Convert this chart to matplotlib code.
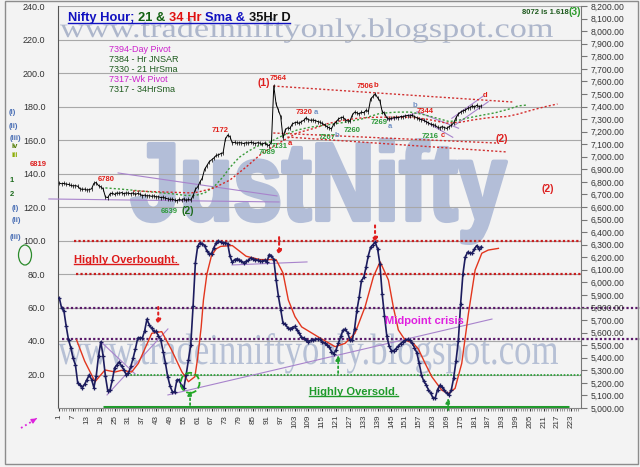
import matplotlib
matplotlib.use('Agg')
import matplotlib.pyplot as plt
from matplotlib.patches import Ellipse, PathPatch, Rectangle
from matplotlib.textpath import TextPath
from matplotlib.font_manager import FontProperties
from matplotlib.transforms import Affine2D
from matplotlib.lines import Line2D

plt.rcParams['font.family'] = ['Liberation Sans', 'DejaVu Sans']

# hourly close, bars 1..184
price = [6790, 6785, 6788, 6782, 6780, 6772, 6768, 6770, 6765, 6745,
         6740, 6742, 6735, 6738, 6745, 6788, 6795, 6770, 6760, 6745,
         6680, 6675, 6705, 6710, 6700, 6712, 6708, 6715, 6705, 6712,
         6710, 6705, 6712, 6700, 6708, 6702, 6690, 6695, 6688, 6690,
         6685, 6688, 6680, 6682, 6675, 6678, 6670, 6665, 6660, 6662,
         6655, 6650, 6660, 6655, 6665, 6652, 6660, 6655, 6690, 6740,
         6760, 6800, 6830, 6900, 6930, 6960, 6975, 6990, 7010, 7015,
         7025, 7030, 7140, 7172, 7160, 7110, 7115, 7108, 7112, 7110,
         7105, 7112, 7108, 7115, 7110, 7105, 7112, 7108, 7100, 7110,
         7095, 7089, 7120, 7564, 7420, 7370, 7320, 7150, 7215, 7230,
         7225, 7260, 7270, 7275, 7265, 7280, 7290, 7310, 7295, 7290,
         7292, 7288, 7280, 7275, 7265, 7255, 7240, 7230, 7222, 7260,
         7275, 7300, 7310, 7315, 7295, 7285, 7285, 7330, 7355, 7350,
         7340, 7355, 7350, 7370, 7360, 7460, 7480, 7500, 7470, 7445,
         7360, 7345, 7310, 7300, 7305, 7310, 7315, 7310, 7320, 7318,
         7325, 7328, 7325, 7330, 7320, 7310, 7300, 7295, 7290, 7280,
         7270, 7260, 7255, 7250, 7235, 7228, 7240, 7232, 7225, 7240,
         7250, 7270, 7310, 7340, 7355, 7365, 7370, 7385, 7390, 7405,
         7395, 7410, 7400, 7405]

# oscillator (left scale), bars 1..184
osc = [65.7, 59.7, 58, 48.7, 40.7, 36, 29.7, 25.7, 14.8, 13.8,
       12.2, 14.2, 17, 19.8, 17, 12.2, 19, 31, 39.5, 31,
       19, 10.4, 10.8, 16.8, 24, 25.7, 27.5, 25, 22.8, 20,
       20.8, 24.8, 29.7, 35.3, 41.7, 42, 41.7, 46, 53, 49.7,
       47.7, 45.7, 45.7, 43, 40.7, 33.7, 27, 18.8, 13.2, 9.8,
       9.4, 16.8, 16.8, 13.2, 11.8, 19.8, 28.7, 37.7, 60.7, 86.6,
       96.6, 98.6, 98.2, 97, 93.6, 92.2, 92.2, 95.6, 98.6, 99.6,
       99.2, 98.6, 98.6, 98.2, 90.6, 87, 88.6, 89, 88.6, 87.6,
       86.6, 87.6, 88.2, 89.6, 89, 88.6, 88.2, 87.6, 87.6, 88.2,
       87, 91.6, 91, 88.6, 76.6, 66.7, 58.7, 50.7, 50, 48,
       47.3, 48, 48.7, 46.7, 44.7, 42.3, 41.7, 40.7, 39.7, 40.3,
       40.7, 41, 41, 41, 39.7, 38.7, 37.7, 36.7, 33.7, 32.3,
       34.7, 38.7, 42.7, 46.5, 47, 45, 40.7, 40.3, 47, 58,
       66, 76, 78, 84, 91, 96, 97.5, 99, 95, 86,
       68, 55, 43, 37, 34.2, 34.2, 35.5, 37, 38.5, 39.6,
       40.3, 41, 40.5, 38.6, 36, 33, 27, 20, 16, 14,
       11, 9, 6, 6, 11, 13.5, 12.5, 10.5, 8.7, 7.8,
       11, 18, 28, 40, 62, 80, 90, 93, 92.4, 92.5,
       95, 97, 94.8, 96.4]
bars = list(range(1, len(price) + 1))

# smoothing line of the oscillator, read at its turning points
osc_ma_x = [8.5, 12, 16.5, 20.8, 25.2, 28, 32.4, 35.3, 41.1, 45.4,
            49.7, 54.1, 57, 59.8, 61, 62.5, 63.5, 65, 67, 69,
            71, 76, 82, 88, 95, 98, 100.3, 103.2, 106.1, 113.3,
            120.6, 124.9, 129.2, 133.6, 137.2, 140.1, 143.7, 145.8, 148, 150.9,
            154.5, 156.7, 159.6, 162.5, 166.8, 169.7, 172.6, 175.5, 178.4, 181.3,
            184.2, 187, 191.4]
osc_ma_y = [40.6, 28, 15.7, 22.7, 21.5, 22.5, 21.5, 26.7, 44.6, 45.6,
            34.6, 21.7, 15.7, 18.7, 30, 48, 64.5, 80, 91, 95,
            96.5, 97, 90.6, 88.6, 88.6, 80.6, 64.5, 54.5, 48.4, 42.4,
            36.6, 38.6, 44.6, 60.5, 78.4, 87.3, 76.4, 60.5, 46.6, 40.6,
            38.6, 35.2, 26.7, 18.7, 10.7, 8.7, 11.7, 26.7, 56.5, 82.4,
            92.4, 94.3, 95.3]

sma21_x = [21, 28, 35, 42, 50, 56, 60, 64, 68, 72, 75, 79, 83, 87, 92, 98, 104,
           110, 117, 125, 132, 140, 147, 153, 158, 163, 170, 174, 178, 184, 190,
           196, 200, 204]
sma21_y = [6752, 6742, 6730, 6718, 6705, 6692, 6692, 6712, 6760, 6840, 6915,
           6995, 7045, 7085, 7115, 7170, 7212, 7236, 7253, 7275, 7300, 7345,
           7355, 7356, 7340, 7316, 7280, 7290, 7308, 7330, 7350, 7380, 7405, 7412]
sma34_x = [33, 42, 52, 58, 61, 68, 75, 82, 89, 97, 104, 112, 117, 124, 131, 138,
           146, 154, 160, 165, 169, 175, 180, 186, 190, 195, 200, 206, 212, 217]
sma34_y = [6728, 6722, 6716, 6712, 6718, 6751, 6815, 6918, 7030, 7117, 7189,
           7229, 7262, 7290, 7308, 7314, 7316, 7314, 7300, 7282, 7268, 7275,
           7292, 7308, 7316, 7320, 7340, 7372, 7400, 7420]

# trend lines: (x0, y0, x1, y1)
price_purple = [(26.5, 6871, 95.4, 6688), (-3.5, 6664, 96.3, 6640),
                (143.2, 7292, 156.2, 7348), (156.1, 7359, 174.1, 7227),
                (157.4, 7306, 171.6, 7155), (171.2, 7306, 184.9, 7484),
                (172.6, 7253, 187.0, 7438)]
price_red = [(93.8, 7563, 197.4, 7436), (93.8, 7189, 190.9, 7109),
             (99.9, 7157, 195.2, 7038)]
osc_purple = [(19.6, 38.8, 33.9, 20.3), (21.7, 7.8, 48.1, 47.2),
              (75.9, 85.4, 108.4, 87.2), (48.1, 7.8, 188.6, 53.1)]

price_labels = [("6780", 21.5, 6815, 'r'), ("6639", 48.6, 6568, 'g'),
                ("7172", 70.7, 7205, 'r'), ("7089", 91, 7030, 'g'),
                ("7131", 96.5, 7078, 'g'), ("a", 101, 7109, 'r'),
                ("7564", 95.8, 7619, 'r'), ("7320", 107.2, 7356, 'r'),
                ("a", 112.3, 7356, 'b'), ("7207", 117.3, 7157, 'g'),
                ("b", 121.4, 7173, 'b'), ("7260", 128.1, 7205, 'g'),
                ("7506", 133.8, 7563, 'r'), ("b", 138.3, 7571, 'r'),
                ("7269", 139.6, 7269, 'g'), ("a", 144.4, 7237, 'b'),
                ("b", 155.3, 7404, 'b'), ("7344", 159.8, 7364, 'r'),
                ("7216", 161.9, 7165, 'g'), ("c", 167.4, 7173, 'r'),
                ("d", 185.6, 7484, 'r'), ("8072 is 1.618", 211.6, 8152, 'k')]
wave_labels = [("(2)", 56.8, 6568, '#1d6b1d'), ("(1)", 89.8, 7587, '#dd2020'),
               ("(2)", 192.9, 7141, '#dd2020'), ("(2)", 212.9, 6743, '#dd2020'),
               ("(3)", 224.6, 8152, '#2a9a2a')]
pivots = [("7394-Day Pivot", '#cc22cc'), ("7384 - Hr JNSAR", '#1e5a1e'),
          ("7330 - 21 HrSma", '#1e5a1e'), ("7317-Wk Pivot", '#cc22cc'),
          ("7317 - 34HrSma", '#1e5a1e')]
side_labels = [("(i)", 12, 113, '#4a6fb5'), ("(ii)", 13, 126, '#4a6fb5'),
               ("(iii)", 15, 139, '#4a6fb5'), ("iv", 15, 147, '#4d7a00'),
               ("iii", 15, 155, '#8aab00'), ("6819", 38, 165, '#dd2020'),
               ("1", 12, 180, '#1d6b1d'), ("2", 12, 194, '#1d6b1d'),
               ("(i)", 15, 208, '#4a6fb5'), ("(ii)", 16, 221, '#4a6fb5'),
               ("(iii)", 15, 238, '#4a6fb5')]
title_parts = [("Nifty Hour; ", '#1010c0'), ("21 & ", '#106010'),
               ("34 Hr ", '#e01010'), ("Sma & ", '#1010c0'), ("35Hr D", '#111111')]

W, H = 640, 467
fig = plt.figure(figsize=(6.4, 4.67), dpi=100, facecolor='#f3f3f3')


def px(x, y):
    return x / W, 1 - y / H


def wordmark(s, x0, x1, ytop, ybase, family, weight, color, stroke=0):
    tp = TextPath((0, 0), s, size=1, prop=FontProperties(family=family, weight=weight))
    ext = tp.get_extents()
    tr = Affine2D().translate(-ext.x0, 0).scale((x1 - x0) / ext.width / W,
                                                (ybase - ytop) / ext.y1 / H)
    tr = tr.translate(x0 / W, 1 - ybase / H)
    fig.add_artist(PathPatch(tp, transform=tr + fig.transFigure, facecolor=color,
                             edgecolor=color if stroke else 'none', lw=stroke,
                             joinstyle='round', zorder=-1))


wordmark("JustNifty", 132, 506, 140, 220, 'Liberation Sans', 'bold', '#b3bed8', stroke=3.0)
wordmark("www.tradeinniftyonly.blogspot.com", 60, 553, 18, 37, 'Liberation Serif', 'normal', '#adb6cb')
wordmark("www.tradeinniftyonly.blogspot.com", 58, 558, 333, 364, 'Liberation Serif', 'normal', '#b6c0d5')

ax = fig.add_axes([58 / W, 1 - 408 / H, 523 / W, 402 / H])
ax.set_facecolor('none')
ax2 = ax.twinx()
ax.set_xlim(0.44, 227.2)
ax.set_ylim(0, 240)
ax2.set_ylim(5000, 8200)

for v in range(20, 241, 20):
    ax.axhline(v, color='#a8a8a8', lw=0.8, zorder=1)

dot = (0, (1, 1))
ax.hlines(100, 7.4, 227.2, colors='#c81e1e', linestyles=dot, lw=1.6, zorder=2)
ax.hlines(80, 8.2, 227.2, colors='#c81e1e', linestyles=dot, lw=1.6, zorder=2)
ax.hlines([60, 41], 2.2, 252.8, colors='#5a1a6a', linestyles=dot, lw=1.6, zorder=2, clip_on=False)
ax.hlines(20, 30.4, 227.2, colors='#22a030', linestyles=dot, lw=1.2, zorder=2)
ax.hlines(0.3, 20, 222, colors='#1e9a2a', lw=2.2, zorder=2, clip_on=False)

for x0, y0, x1, y1 in osc_purple:
    ax.plot([x0, x1], [y0, y1], color='#a883cc', lw=0.8, zorder=2)

ax.plot(osc_ma_x, osc_ma_y, color='#e2361e', lw=1.0, zorder=3)
ax.plot(bars, osc, color='#1c1c5e', lw=1.2, marker='+', ms=3.2, mew=0.9, zorder=4)

# arrows
for xa, ya, yb in [(43.9, 60.3, 49.6), (96.3, 102, 91), (137.9, 109, 98.5)]:
    ax.annotate('', xy=(xa, yb), xytext=(xa, ya),
                arrowprops=dict(arrowstyle='-|>', color='#e02020', ls=':', lw=1.5,
                                mutation_scale=7, shrinkA=0, shrinkB=0))
for xa, ya, yb in [(57.7, 1.8, 10.7), (121.9, 20.9, 31.6), (169.6, -1.2, 6)]:
    ax.annotate('', xy=(xa, yb), xytext=(xa, ya), annotation_clip=False,
                arrowprops=dict(arrowstyle='-|>', color='#22a030', ls=':', lw=1.3,
                                mutation_scale=7, shrinkA=0, shrinkB=0))
ax.add_patch(Ellipse((57.7, 15), 8.2, 12, fill=False, ec='#22aa22', ls='--', lw=1.3, zorder=5))

# price panel
for x0, y0, x1, y1 in price_purple:
    ax2.plot([x0, x1], [y0, y1], color='#a883cc', lw=0.8, zorder=2, clip_on=False)
for x0, y0, x1, y1 in price_red:
    ax2.plot([x0, x1], [y0, y1], color='#d03030', lw=1.0, ls=(0, (1.5, 1.5)), zorder=2)
ax2.plot(sma21_x, sma21_y, color='#3a9a3a', lw=1.0, ls=(0, (1.5, 1.5)), zorder=3)
ax2.plot(sma34_x, sma34_y, color='#d42a2a', lw=1.0, ls=(0, (1.5, 1.5)), zorder=3)
ax2.plot(bars, price, color='black', lw=0.7, marker='|', ms=2.2, mew=0.5, zorder=4)

cols = {'r': '#e0201a', 'g': '#2e9a3a', 'b': '#7090c4', 'k': '#1e5a1e'}
for s, x, y, c in price_labels:
    ax2.text(x, y, s, color=cols[c], fontsize=5.5, weight='bold', ha='center', va='center', zorder=6)
for s, x, y, c in wave_labels:
    ax2.text(x, y, s, color=c, fontsize=7.5, weight='bold', ha='center', va='center', zorder=6)

# axes styling
ax.spines['top'].set_visible(False)
ax.spines['right'].set_visible(False)
ax.spines['left'].set_color('#555555')
ax.spines['bottom'].set_color('#888888')
for sp in ['top', 'left', 'bottom']:
    ax2.spines[sp].set_visible(False)
ax2.spines['right'].set_color('#777777')

ax.set_xticks(range(1, 224, 6))
ax.set_xticklabels([str(v) for v in range(1, 224, 6)], rotation=90)
ax.set_xticks(range(1, 227), minor=True)
ax.tick_params(axis='x', which='major', length=2, pad=3, labelsize=5.8, colors='#333333')
ax.tick_params(axis='x', which='minor', length=2, color='#888888')
ax.set_yticks(range(0, 241, 20))
ax.set_yticklabels(['' if v == 0 else f'{v:.1f}' for v in range(0, 241, 20)])
ax.tick_params(axis='y', length=0, pad=9, labelsize=6.5, labelcolor='#333333')
ax2.set_yticks(range(5000, 8201, 100))
ax2.set_yticklabels([f'{v:,.2f}' for v in range(5000, 8201, 100)])
ax2.tick_params(axis='y', direction='out', length=4, pad=3, labelsize=6.2,
                labelcolor='#333333', color='#777777')

renderer = fig.canvas.get_renderer()


def underline(t, color, off):
    bb = t.get_window_extent(renderer)
    y = bb.y0 + off
    fig.add_artist(Line2D([bb.x0 / fig.bbox.width, bb.x1 / fig.bbox.width],
                          [y / fig.bbox.height] * 2, color=color, lw=1.0))


t = ax.text(7.4, 86.6, "Highly Overbought.", color='#dd1a1a', fontsize=8, weight='bold', va='baseline')
underline(t, '#dd1a1a', 0.5)
t = ax.text(109.3, 7.8, "Highly Oversold.", color='#1e9a2a', fontsize=8, weight='bold', va='baseline')
underline(t, '#1e9a2a', 0.5)
ax.text(142.2, 50.1, "Midpoint crisis", color='#e020e0', fontsize=8, weight='bold', va='baseline', zorder=6)

# title in several colours
x = 68 / W
for s, c in title_parts:
    t = fig.text(x, 1 - 21 / H, s, color=c, fontsize=9.3, weight='bold', va='baseline')
    x += t.get_window_extent(renderer).width / fig.bbox.width
fig.add_artist(Line2D([68 / W, x], [1 - 23 / H] * 2, color='#1010c0', lw=1.0))

for k, (s, c) in enumerate(pivots):
    fig.text(*px(109, 49 + k * 10.2), s, color=c, fontsize=6.5, va='center')
for s, x0, y0, c in side_labels:
    fig.text(*px(x0, y0), s, color=c, fontsize=5.5, weight='bold', ha='center', va='center')
fig.add_artist(Ellipse(px(25, 255), 13 / W, 20 / H, transform=fig.transFigure,
                       fill=False, ec='#2a8a2a', lw=0.9))
fig.add_artist(Line2D([21 / W, 36 / W], [1 - 428 / H, 1 - 419 / H], color='#dd22dd', lw=1.3, ls=':'))
ax.annotate('', xy=px(39, 417), xytext=px(34, 420), xycoords='figure fraction',
            textcoords='figure fraction', annotation_clip=False,
            arrowprops=dict(arrowstyle='-|>', color='#dd22dd', lw=1.0, mutation_scale=7))
fig.add_artist(Rectangle(px(5, 464), 633 / W, 463 / H, transform=fig.transFigure,
                         fill=False, ec='#8c8c8c', lw=1.0))

fig.savefig('out.png', dpi=100, facecolor=fig.get_facecolor())
